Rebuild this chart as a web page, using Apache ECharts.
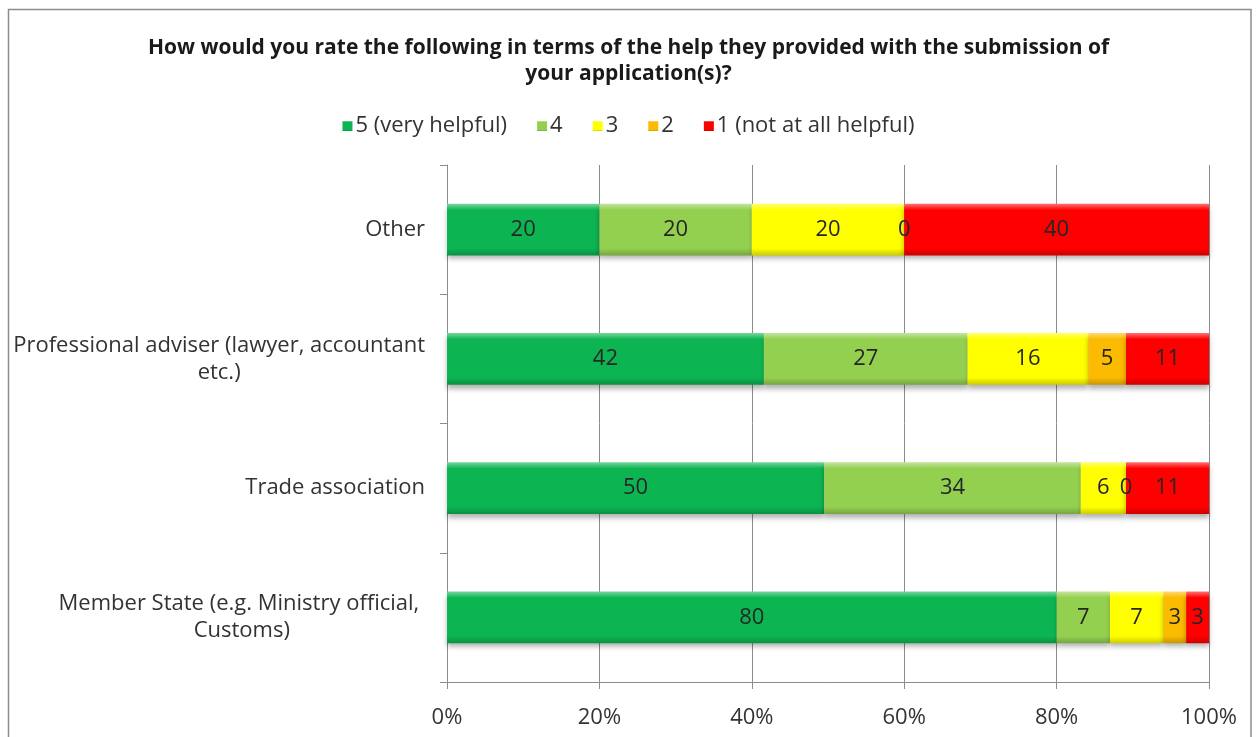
<!DOCTYPE html>
<html>
<head>
<meta charset="utf-8">
<style>
  html, body { margin: 0; padding: 0; background: #ffffff; }
  #chart { width: 1257px; height: 737px; }
</style>
<script src="https://cdn.jsdelivr.net/npm/echarts@6/dist/echarts.min.js"></script>
</head>
<body>
<div id="chart"></div>
<script>
// Survey sources, listed top to bottom
const categories = [
  'Other',
  'Professional adviser (lawyer, accountant\netc.)',
  'Trade association',
  'Member State (e.g. Ministry official, \nCustoms)'
];

// Rating levels and their colours
const ratingNames = ['5 (very helpful)', '4', '3', '2', '1 (not at all helpful)'];
const ratingColors = ['#0cb552', '#94d050', '#ffff00', '#fbbb00', '#ff0000'];

// Share of answers (%) per source, one array per rating level
const rating5 = [20, 42, 50, 80];
const rating4 = [20, 27, 34, 7];
const rating3 = [20, 16, 6, 7];
const rating2 = [0, 5, 0, 3];
const rating1 = [40, 11, 11, 3];

const xTickLabels = ['0%', '20%', '40%', '60%', '80%', '100%'];

const FONT = '"Open Sans", Lato, sans-serif';
const ratingValues = [rating5, rating4, rating3, rating2, rating1];

// Each bar is scaled to 100% of its row total
const rowTotals = categories.map((_, i) => ratingValues.reduce((s, arr) => s + arr[i], 0));

function lighten(hex, amt) {
  const n = parseInt(hex.slice(1), 16);
  let r = (n >> 16) & 255, g = (n >> 8) & 255, b = n & 255;
  r = Math.round(r + (255 - r) * amt); g = Math.round(g + (255 - g) * amt); b = Math.round(b + (255 - b) * amt);
  return 'rgb(' + r + ',' + g + ',' + b + ')';
}
function darken(hex, amt) {
  const n = parseInt(hex.slice(1), 16);
  let r = (n >> 16) & 255, g = (n >> 8) & 255, b = n & 255;
  r = Math.round(r * (1 - amt)); g = Math.round(g * (1 - amt)); b = Math.round(b * (1 - amt));
  return 'rgb(' + r + ',' + g + ',' + b + ')';
}
function bevel(hex) {
  return new echarts.graphic.LinearGradient(0, 0, 0, 1, [
    { offset: 0, color: lighten(hex, 0.45) },
    { offset: 0.12, color: hex },
    { offset: 0.86, color: hex },
    { offset: 1, color: darken(hex, 0.2) }
  ]);
}

const series = ratingNames.map((name, k) => ({
  name: name,
  type: 'bar',
  stack: 'total',
  barCategoryGap: '60%',
  data: ratingValues[k].map((v, i) => ({ value: v / rowTotals[i] * 100, raw: v })),
  itemStyle: {
    color: bevel(ratingColors[k]),
    shadowColor: 'rgba(0,0,0,0.3)',
    shadowBlur: 5,
    shadowOffsetY: 4
  },
  label: {
    show: true,
    position: 'inside',
    formatter: p => String(p.data.raw),
    fontFamily: FONT,
    fontSize: 22,
    color: '#262626'
  },
  emphasis: { disabled: true }
}));

const chart = echarts.init(document.getElementById('chart'), null, { renderer: 'canvas' });
chart.setOption({
  backgroundColor: '#ffffff',
  animation: false,
  title: {
    text: 'How would you rate the following in terms of the help they provided with the submission of\nyour application(s)?',
    left: 'center',
    top: 30,
    textStyle: { fontFamily: FONT, fontSize: 21, fontWeight: 'bold', color: '#1a1a1a', lineHeight: 26 }
  },
  legend: {
    top: 110,
    left: 'center',
    itemWidth: 10,
    itemHeight: 10,
    itemGap: 30,
    icon: 'rect',
    textStyle: { fontFamily: FONT, fontSize: 22, color: '#333333', padding: [0, 0, 0, -2] },
    data: ratingNames.map((n, k) => ({ name: n, itemStyle: { color: bevel(ratingColors[k]) } }))
  },
  grid: { left: 447, right: 48, top: 165, bottom: 55, containLabel: false },
  xAxis: {
    type: 'value',
    min: 0,
    max: 100,
    interval: 20,
    axisLine: { show: true, lineStyle: { color: '#8c8c8c', width: 1 } },
    axisTick: { show: true, length: 7, lineStyle: { color: '#8c8c8c' } },
    splitLine: { show: true, lineStyle: { color: '#8c8c8c', width: 1 } },
    axisLabel: {
      margin: 25,
      fontFamily: FONT,
      fontSize: 22,
      color: '#333333',
      formatter: v => xTickLabels[Math.round(v / 20)]
    }
  },
  yAxis: {
    type: 'category',
    inverse: true,
    data: categories,
    axisLine: { show: true, lineStyle: { color: '#8c8c8c', width: 1 } },
    axisTick: { show: true, length: 7, lineStyle: { color: '#8c8c8c' } },
    axisLabel: {
      margin: 22,
      align: 'right',
      formatter: v => v.split('\n').map(l => '{c|' + l + '}').join('\n'),
      rich: {
        c: { align: 'center', fontFamily: FONT, fontSize: 22, color: '#333333', lineHeight: 27 }
      }
    }
  },
  graphic: [{
    type: 'rect',
    shape: { x: 8.5, y: 9.5, width: 1242.5, height: 760 },
    style: { fill: null, stroke: '#8c8c8c', lineWidth: 1.5 },
    silent: true,
    z: 100
  }],
  series: series
});
</script>
</body>
</html>
